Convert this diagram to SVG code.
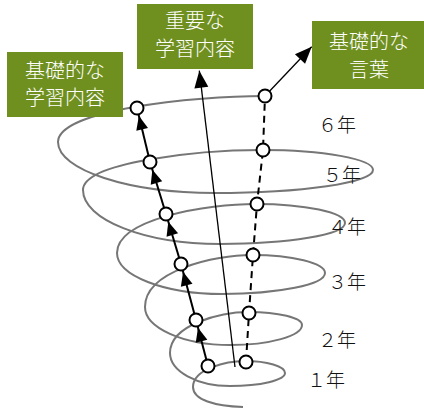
<svg xmlns="http://www.w3.org/2000/svg" width="424" height="410" viewBox="0 0 424 410">
<style>
.spiral{fill:none;stroke:#767676;stroke-width:2}
.node{fill:#fff;stroke:#000;stroke-width:2}
.box{fill:#6f901f}
.bt{fill:#fff;font-family:"Noto Sans CJK JP","Noto Sans",sans-serif;font-size:20px;text-anchor:middle;font-weight:300}
.yr{fill:#111;font-family:"Noto Sans CJK JP","Noto Sans",sans-serif;font-size:19px;font-weight:300}
.up{stroke:#000;stroke-width:2;fill:none;marker-end:url(#ah)}
.thin{stroke:#000;stroke-width:1.3;fill:none;marker-end:url(#ah2)}
.dash{stroke:#000;stroke-width:2;fill:none;stroke-dasharray:7 5}
</style>
<defs>
<marker id="ah" markerUnits="userSpaceOnUse" markerWidth="30" markerHeight="16" viewBox="-24 -8 30 16" refX="0" refY="0" orient="auto" overflow="visible">
<path d="M-22,-6 L-8,0 L-22,6 z" fill="#000"/>
</marker>
<marker id="ah2" markerUnits="userSpaceOnUse" markerWidth="24" markerHeight="18" viewBox="-20 -9 24 18" refX="0" refY="0" orient="auto" overflow="visible">
<path d="M-17,-7 L0,0 L-17,7 z" fill="#000"/>
</marker>
</defs>
<g id="spiral">
<path class="spiral" d="M265,96 C192.5,96 58,109.8 58,142
C58,170 128.7,193 215,193 C301.9,193 373,182.6 373,170
C373,159 323,150 262,150 C199.4,150 83,162 83,190
C83,219.7 144.7,244 220,244 C288.8,244 345,234.6 345,223
C345,212.6 305,204 256,204 C207.4,204 117,218.7 117,253
C117,275.6 164.3,294 222,294 C278.7,294 325,284.6 325,273
C325,263.1 292.2,255 252,255 C214.6,255 145,270.6 145,307
C145,327.9 183.3,345 230,345 C269.6,345 302,336 302,325
C302,317.9 278.2,312 249,312 C221.4,312 170,324.3 170,353
C170,371.2 197,386 230,386 C260.3,386 285,380.2 285,373
C285,366.4 267,361 245,361 C226.8,361 193,368.8 193,387
C193,400 215,406 243,407"/>
</g>
<g id="connectors">
<line class="thin" x1="235" y1="367" x2="199.3" y2="70.7"/>
<line class="thin" x1="265" y1="96" x2="311.7" y2="46.7"/>
<polyline class="dash" points="246,362 249,313 253,255 257,204 263,150 265,96"/>
<line class="up" x1="208" y1="366" x2="196" y2="320"/>
<line class="up" x1="196" y1="320" x2="181" y2="264"/>
<line class="up" x1="181" y1="264" x2="166" y2="214"/>
<line class="up" x1="166" y1="214" x2="150" y2="162"/>
<line class="up" x1="150" y1="162" x2="137" y2="108"/>
</g>
<g id="nodes-left">
<circle class="node" cx="137" cy="108" r="6.5"/>
<circle class="node" cx="150" cy="162" r="6.5"/>
<circle class="node" cx="166" cy="214" r="6.5"/>
<circle class="node" cx="181" cy="264" r="6.5"/>
<circle class="node" cx="196" cy="320" r="6.5"/>
<circle class="node" cx="208" cy="366" r="6.5"/>
</g>
<g id="nodes-right">
<circle class="node" cx="265" cy="96" r="6.5"/>
<circle class="node" cx="263" cy="150" r="6.5"/>
<circle class="node" cx="257" cy="204" r="6.5"/>
<circle class="node" cx="253" cy="255" r="6.5"/>
<circle class="node" cx="249" cy="313" r="6.5"/>
<circle class="node" cx="246" cy="362" r="6.5"/>
</g>
<g id="box-basic-content">
<rect class="box" x="7" y="52" width="116" height="65"/>
<text class="bt" x="65" y="77.5">基礎的な</text>
<text class="bt" x="65" y="105">学習内容</text>
</g>
<g id="box-important-content">
<rect class="box" x="137" y="4" width="116" height="65"/>
<text class="bt" x="195" y="28">重要な</text>
<text class="bt" x="195" y="55.5">学習内容</text>
</g>
<g id="box-basic-words">
<rect class="box" x="312" y="21" width="112" height="68"/>
<text class="bt" x="369" y="49">基礎的な</text>
<text class="bt" x="369" y="77">言葉</text>
</g>
<g id="years">
<text class="yr" x="318" y="132">６年</text>
<text class="yr" x="323" y="182">５年</text>
<text class="yr" x="328" y="234">４年</text>
<text class="yr" x="328" y="289">３年</text>
<text class="yr" x="318" y="347">２年</text>
<text class="yr" x="307" y="387">１年</text>
</g>
</svg>
